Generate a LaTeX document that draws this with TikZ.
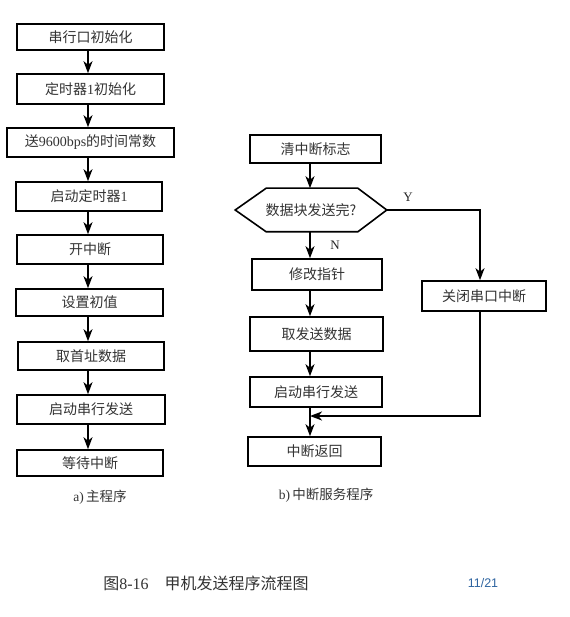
\documentclass[tikz,border=0pt]{standalone}
\usepackage{fontspec}
\setmainfont{Liberation Serif}
\newfontfamily\cjk{Noto Sans CJK SC}
\newfontfamily\lsans{Liberation Sans}
\usetikzlibrary{arrows.meta,calc}
\begin{document}
\begin{tikzpicture}[x=1pt,y=-1pt,
  box/.style={draw=black,line width=1.6pt,rectangle,inner sep=0pt,text=black!80,font=\fontsize{14}{16}\selectfont\cjk},
  arr/.style={line width=1.6pt,-{Stealth[length=12pt,width=9pt,inset=3.5pt]}},
  ln/.style={line width=1.6pt},
  lbl/.style={font=\fontsize{13}{15}\selectfont,text=black!85},
  capt/.style={font=\fontsize{13.5}{15}\selectfont\cjk,text=black!80}]
\useasboundingbox (0,0) rectangle (569,617);
\fill[white] (0,0) rectangle (569,617);
% left column
\node[box,minimum width=147pt,minimum height=26pt] (b1) at (90.5,37) {串行口初始化};
\node[box,minimum width=147pt,minimum height=30pt] (b2) at (90.5,89) {定时器{\rmfamily 1}初始化};
\node[box,minimum width=167pt,minimum height=29pt] (b3) at (90.5,142.5) {送{\rmfamily 9600bps}的时间常数};
\node[box,minimum width=146pt,minimum height=29pt] (b4) at (89,196.5) {启动定时器{\rmfamily 1}};
\node[box,minimum width=146pt,minimum height=29pt] (b5) at (90,249.5) {开中断};
\node[box,minimum width=147pt,minimum height=27pt] (b6) at (89.5,302.5) {设置初值};
\node[box,minimum width=146pt,minimum height=28pt] (b7) at (91,356) {取首址数据};
\node[box,minimum width=148pt,minimum height=29pt] (b8) at (91,409.5) {启动串行发送};
\node[box,minimum width=146pt,minimum height=26pt] (b9) at (90,463) {等待中断};
\coordinate (ax) at (88,0);
\foreach \a/\b in {b1/b2,b2/b3,b3/b4,b4/b5,b5/b6,b6/b7,b7/b8,b8/b9}
  \draw[arr] (\a.south -| ax) -- (\b.north -| ax);
\node[capt] (capa) at (100,497) {{\rmfamily a)}\,主程序};
% right column
\coordinate (rx) at (310,0);
\node[box,minimum width=131pt,minimum height=28pt] (r1) at (315.5,149) {清中断标志};
\node[box,draw=none,minimum width=150pt,minimum height=42pt] (hex) at (311,210) {数据块发送完?};
\draw[ln] (hex.west) -- ($(hex.north west)+(31,0)$) -- ($(hex.north east)+(-29,0)$) -- (hex.east)
  -- ($(hex.south east)+(-29,0)$) -- ($(hex.south west)+(31,0)$) -- cycle;
\node[box,minimum width=130pt,minimum height=31pt] (r2) at (317,274.5) {修改指针};
\node[box,minimum width=133pt,minimum height=34pt] (r3) at (316.5,334) {取发送数据};
\node[box,minimum width=132pt,minimum height=30pt] (r4) at (316,392) {启动串行发送};
\node[box,minimum width=133pt,minimum height=29pt] (r5) at (314.5,451.5) {中断返回};
\node[box,minimum width=124pt,minimum height=30pt] (rc) at (484,296) {关闭串口中断};
\coordinate (cx) at (480,0);
\coordinate (m) at (310,416);
\draw[arr] (r1.south -| rx) -- (hex.north -| rx);
\draw[arr] (hex.south -| rx) -- (r2.north -| rx);
\draw[arr] (r2.south -| rx) -- (r3.north -| rx);
\draw[arr] (r3.south -| rx) -- (r4.north -| rx);
\draw[arr] (r4.south -| rx) -- (r5.north -| rx);
\draw[arr] (hex.east) -| (rc.north -| cx);
\draw[arr] (rc.south -| cx) |- (m);
\node[lbl] (ly) at (408,197) {Y};
\node[lbl] (lnn) at (335,245) {N};
\node[capt] (capb) at (326,495) {{\rmfamily b)}\,中断服务程序};
% bottom caption
\node[font=\fontsize{16}{18}\selectfont\cjk,text=black!80] (title) at (206,583) {图{\rmfamily 8-16}\quad 甲机发送程序流程图};
\node[font=\fontsize{12.5}{14}\selectfont\lsans,text={rgb,255:red,46;green,100;blue,160}] (pg) at (483,583) {11/21};
\end{tikzpicture}
\end{document}
